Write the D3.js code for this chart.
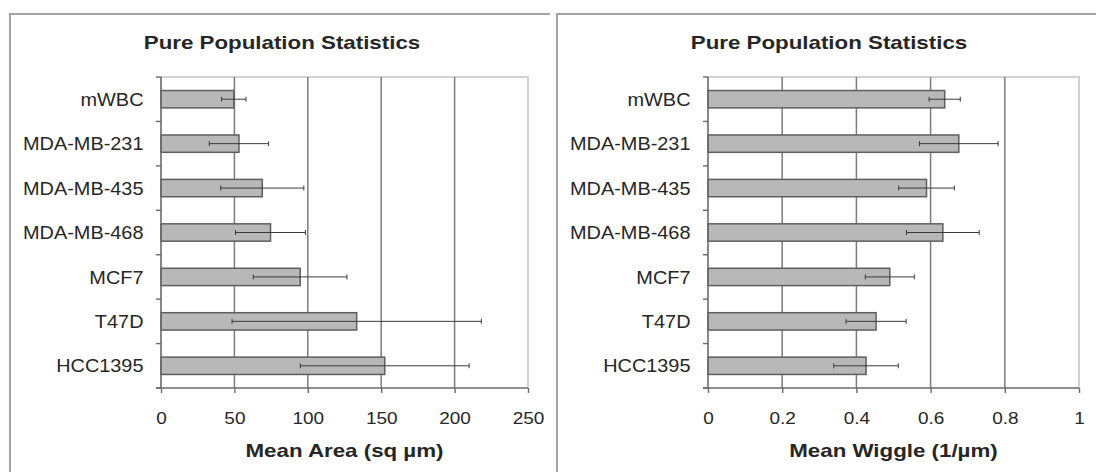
<!DOCTYPE html>
<html>
<head>
<meta charset="utf-8">
<script src="https://cdn.jsdelivr.net/npm/d3@7"></script>
<style>
  html, body { margin: 0; padding: 0; background: #fff; }
  svg { display: block; }
  text { font-family: "Liberation Sans", Arial, sans-serif; fill: #262626; }
</style>
</head>
<body>
<svg id="chart" width="1096" height="472"></svg>
<script>
// Cell lines, shared by both panels
const categories = ["mWBC", "MDA-MB-231", "MDA-MB-435", "MDA-MB-468", "MCF7", "T47D", "HCC1395"];

// Mean cell area (sq µm) and its spread
const areaMean = [49.6, 53.1, 69.0, 74.6, 94.8, 133.3, 152.4];
const areaErr  = [8.3, 20.2, 28.3, 23.8, 31.9, 84.9, 57.5];
const areaTicks = [0, 50, 100, 150, 200, 250];

// Mean wiggle (1/µm) and its spread
const wiggleMean = [0.638, 0.676, 0.589, 0.633, 0.490, 0.453, 0.426];
const wiggleErr  = [0.042, 0.106, 0.075, 0.098, 0.066, 0.081, 0.087];
const wiggleTicks = [0, 0.2, 0.4, 0.6, 0.8, 1];

const chartTitle = "Pure Population Statistics";
const areaTitle = "Mean Area (sq µm)";
const wiggleTitle = "Mean Wiggle (1/µm)";

const svg = d3.select("#chart");
const TITLE_STRETCH = 1.2;   // wide bold lettering
const LABEL_STRETCH = 1.07;
const TICK_STRETCH = 1.2;

function drawPanel(ox, means, errs, ticks, xTitle, right, panelRight) {
  const g = svg.append("g").attr("transform", `translate(${ox},0)`);
  const left = 161, top = 77, bottom = 388;

  // frame of the panel
  g.append("path")
    .attr("d", `M${10},${480} L${10},${14} L${panelRight},${14}`)
    .attr("fill", "none").attr("stroke", "#a3a3a3").attr("stroke-width", 2);

  const x = d3.scaleLinear().domain([ticks[0], ticks[ticks.length - 1]]).range([left, right]);
  const y = d3.scaleBand().domain(categories).range([top, bottom])
    .paddingInner(0.61).paddingOuter(0.305);

  // plot-area border (top and right)
  g.append("path")
    .attr("d", `M${x(ticks[0])},${top} L${x(ticks[ticks.length - 1])},${top} L${x(ticks[ticks.length - 1])},${bottom}`)
    .attr("fill", "none").attr("stroke", "#d2d2d2").attr("stroke-width", 2);

  // vertical gridlines
  g.selectAll(".grid").data(ticks.slice(1, -1)).join("line")
    .attr("x1", d => x(d)).attr("x2", d => x(d))
    .attr("y1", top).attr("y2", bottom)
    .attr("stroke", "#7c7c7c").attr("stroke-width", 1.5);

  // bars
  g.selectAll(".bar").data(categories).join("rect")
    .attr("x", x(0))
    .attr("y", d => y(d))
    .attr("width", (d, i) => x(means[i]) - x(0))
    .attr("height", y.bandwidth())
    .attr("fill", "#b8b8b8").attr("stroke", "#5e5e5e").attr("stroke-width", 1.5);

  // error bars
  const eb = g.selectAll(".err").data(categories).join("g")
    .attr("transform", d => `translate(0,${y(d) + y.bandwidth() / 2})`);
  eb.append("line")
    .attr("x1", (d, i) => x(means[i] - errs[i]))
    .attr("x2", (d, i) => x(means[i] + errs[i]))
    .attr("stroke", "#3a3a3a").attr("stroke-width", 1);
  eb.append("line")
    .attr("x1", (d, i) => x(means[i] - errs[i])).attr("x2", (d, i) => x(means[i] - errs[i]))
    .attr("y1", -2.5).attr("y2", 2.5)
    .attr("stroke", "#3a3a3a").attr("stroke-width", 1);
  eb.append("line")
    .attr("x1", (d, i) => x(means[i] + errs[i])).attr("x2", (d, i) => x(means[i] + errs[i]))
    .attr("y1", -2.5).attr("y2", 2.5)
    .attr("stroke", "#3a3a3a").attr("stroke-width", 1);

  // category axis: line, boundary ticks, labels
  g.append("line").attr("x1", left).attr("x2", left).attr("y1", top).attr("y2", bottom)
    .attr("stroke", "#6a6a6a").attr("stroke-width", 1.6);
  const bounds = d3.range(categories.length + 1).map(i => top + i * y.step());
  g.selectAll(".ytick").data(bounds).join("line")
    .attr("x1", left - 5).attr("x2", left)
    .attr("y1", d => d).attr("y2", d => d)
    .attr("stroke", "#6a6a6a").attr("stroke-width", 1.4);
  g.selectAll(".ylab").data(categories).join("text")
    .attr("transform", d => `translate(${left - 17.5},${y(d) + y.bandwidth() / 2}) scale(${LABEL_STRETCH},1)`)
    .attr("dy", "0.36em")
    .attr("text-anchor", "end")
    .style("font-size", "18.6px")
    .text(d => d);

  // value axis
  g.append("line").attr("x1", left - 5).attr("x2", right).attr("y1", bottom).attr("y2", bottom)
    .attr("stroke", "#6a6a6a").attr("stroke-width", 1.6);
  const ax = g.append("g").attr("transform", `translate(0,${bottom})`)
    .call(d3.axisBottom(x).tickValues(ticks).tickSize(5).tickPadding(20).tickFormat(d => String(d)));
  ax.select(".domain").remove();
  ax.selectAll(".tick line").attr("stroke", "#6a6a6a").attr("stroke-width", 1.4);
  ax.selectAll(".tick text")
    .attr("transform", `scale(${TICK_STRETCH},1)`)
    .style("font-size", "15.8px")
    .style("font-family", "'Liberation Sans', Arial, sans-serif")
    .attr("fill", "#262626");

  // titles
  g.append("text")
    .attr("transform", `translate(282,48.5) scale(${TITLE_STRETCH},1)`)
    .attr("text-anchor", "middle")
    .style("font-size", "18.6px").style("font-weight", "bold")
    .text(chartTitle);
  g.append("text")
    .attr("transform", `translate(${(left + right) / 2},457) scale(${TITLE_STRETCH},1)`)
    .attr("text-anchor", "middle")
    .style("font-size", "18.6px").style("font-weight", "bold")
    .text(xTitle);
}

drawPanel(0, areaMean, areaErr, areaTicks, areaTitle, 528, 550);
drawPanel(547, wiggleMean, wiggleErr, wiggleTicks, wiggleTitle, 532, 600);
</script>
</body>
</html>
